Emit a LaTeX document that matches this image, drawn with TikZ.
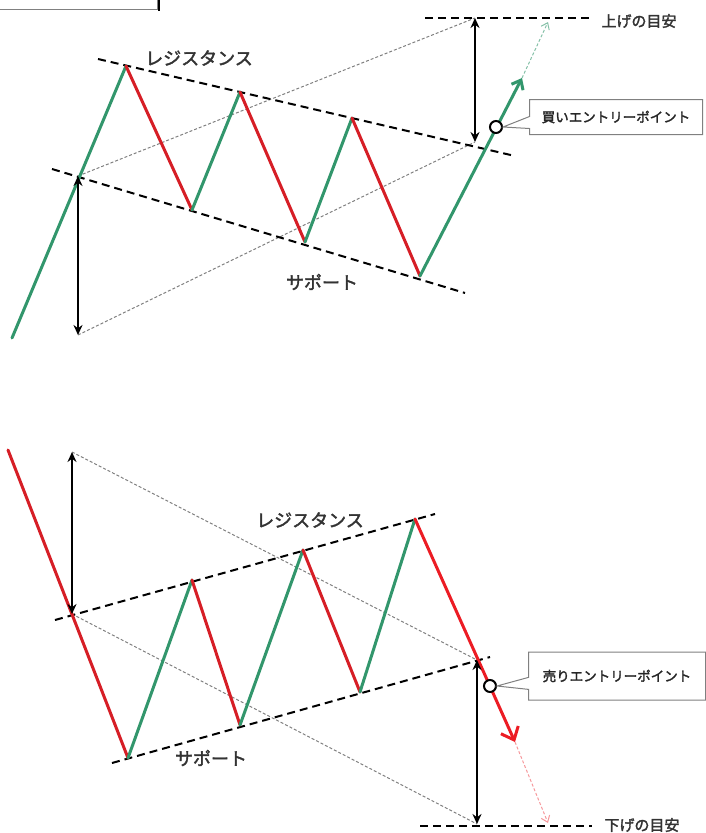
\documentclass[tikz,border=0pt]{standalone}
\usepackage{fontspec}
\newfontfamily\jp{Noto Sans CJK JP}[FakeBold=2]
\usetikzlibrary{arrows.meta,shapes.callouts}
\definecolor{upgreen}{RGB}{50,150,108}
\definecolor{downred}{RGB}{214,30,38}
\definecolor{sellred}{RGB}{236,28,36}
\tikzset{
  leg/.style={line width=3pt,line cap=round},
  guide/.style={line width=2pt,dash pattern=on 8pt off 5pt},
  aux/.style={gray,line width=1pt,dash pattern=on 3pt off 2pt},
  span/.style={line width=2pt,{Stealth[length=10pt,width=9pt]}-{Stealth[length=10pt,width=9pt]}},
  ghost/.style={line width=1pt,dash pattern=on 3pt off 2pt,-{Straight Barb[length=6pt,width=9pt]}},
  lbl/.style={font=\jp\fontsize{18}{18}\selectfont,text=black!80,inner sep=0pt},
  goal/.style={font=\jp\fontsize{15}{15}\selectfont,text=black!80,inner sep=0pt},
  entry/.style={circle,draw,line width=2pt,fill=white,minimum size=12pt,inner sep=0pt},
  memo/.style={rectangle callout,draw=gray,line width=1pt,fill=white,
    callout pointer width=12pt,font=\jp\fontsize{13.5}{13.5}\selectfont,text=black!85}
}
\begin{document}
\begin{tikzpicture}[x=1pt,y=-1pt]
\useasboundingbox (0,0) rectangle (705,833);
\draw[gray] (-10,-20) rectangle (157,9);
\draw[line width=2pt] (159,-2) -- (159,11);

% upper chart
\coordinate (t0) at (12,338);
\coordinate (t1) at (126,66);
\coordinate (t2) at (192,210);
\coordinate (t3) at (240,92);
\coordinate (t4) at (305,242);
\coordinate (t5) at (352,118);
\coordinate (t6) at (420,276);
\coordinate (t7) at (522,78);
\coordinate (t8) at (548,22);
\coordinate (tr1) at (98,59);
\coordinate (tr2) at (515,156);
\coordinate (ts1) at (52,169);
\coordinate (ts2) at (465,293);
\coordinate (ta1) at (78,176);
\coordinate (ta2) at (78,335);
\coordinate (tb1) at (475,18);
\coordinate (tb2) at (475,142);
\coordinate (tg1) at (425,18);
\coordinate (tg2) at (592,18);

\draw[aux] (ta1) -- (tb1);
\draw[aux] (ta2) -- (tb2);
\draw[guide] (tr1) -- (tr2);
\draw[guide] (ts1) -- (ts2);
\draw[guide] (tg1) -- (tg2);
\draw[leg,upgreen] (t0) -- (t1);
\draw[leg,downred] (t1) -- (t2);
\draw[leg,upgreen] (t2) -- (t3);
\draw[leg,downred] (t3) -- (t4);
\draw[leg,upgreen] (t4) -- (t5);
\draw[leg,downred] (t5) -- (t6);
\draw[leg,upgreen,-{Straight Barb[length=8pt,width=13pt]}] (t6) -- (t7);
\draw[ghost,upgreen!60] (t7) -- (t8);
\draw[span] (ta1) -- (ta2);
\draw[span] (tb1) -- (tb2);

\node[lbl] (topres) at (199,58) {レジスタンス};
\node[lbl] (topsup) at (322,282) {サポート};
\node[goal] (upgoal) at (639,21) {上げの目安};
\node[entry] (buy) at (496,127) {};
\node[memo,minimum width=173pt,minimum height=35pt,callout absolute pointer={(buy.east)}] (buymemo) at (616,117) {買いエントリーポイント};

% lower chart
\coordinate (b0) at (8,450);
\coordinate (b1) at (128,758);
\coordinate (b2) at (192,580);
\coordinate (b3) at (240,725);
\coordinate (b4) at (303,550);
\coordinate (b5) at (360,692);
\coordinate (b6) at (415,519);
\coordinate (b7) at (515,742);
\coordinate (b8) at (548,823);
\coordinate (br1) at (55,620);
\coordinate (br2) at (435,514);
\coordinate (bs1) at (112,763);
\coordinate (bs2) at (490,657);
\coordinate (ba1) at (72,452);
\coordinate (ba2) at (72,614);
\coordinate (bb1) at (477,660);
\coordinate (bb2) at (477,824);
\coordinate (bg1) at (420,826);
\coordinate (bg2) at (592,826);

\draw[aux] (ba1) -- (bb1);
\draw[aux] (ba2) -- (bb2);
\draw[guide] (br1) -- (br2);
\draw[guide] (bs1) -- (bs2);
\draw[guide] (bg1) -- (bg2);
\draw[leg,downred] (b0) -- (b1);
\draw[leg,upgreen] (b1) -- (b2);
\draw[leg,downred] (b2) -- (b3);
\draw[leg,upgreen] (b3) -- (b4);
\draw[leg,downred] (b4) -- (b5);
\draw[leg,upgreen] (b5) -- (b6);
\draw[leg,sellred,-{Straight Barb[length=11pt,width=19pt]}] (b6) -- (b7);
\draw[ghost,sellred!45] (b7) -- (b8);
\draw[span] (ba1) -- (ba2);
\draw[span] (bb1) -- (bb2);

\node[lbl] (lowres) at (310,520) {レジスタンス};
\node[lbl] (lowsup) at (211,758) {サポート};
\node[goal] (downgoal) at (642,825) {下げの目安};
\node[entry] (sell) at (490,686) {};
\node[memo,minimum width=177pt,minimum height=48pt,callout absolute pointer={(sell.east)}] (sellmemo) at (617,676) {売りエントリーポイント};
\end{tikzpicture}
\end{document}
